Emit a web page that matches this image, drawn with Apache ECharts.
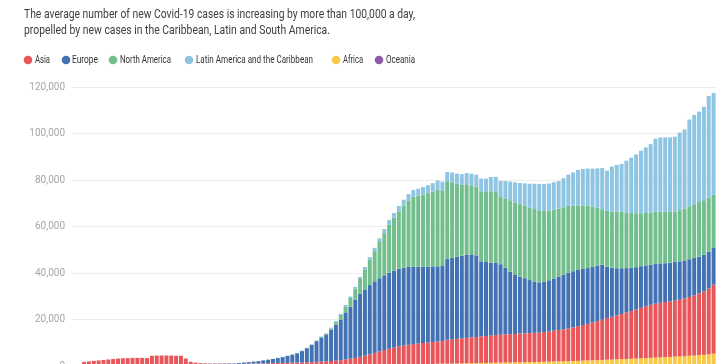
<!DOCTYPE html>
<html><head><meta charset="utf-8">
<script src="https://cdn.jsdelivr.net/npm/echarts@6/dist/echarts.min.js"></script>
<style>html,body{margin:0;padding:0;background:#fff}#c{width:728px;height:364px}</style>
</head><body><div id="c"></div>
<script>
// Daily new cases, 7-day average, by region
const asia = [
 200,600,1800,2000,2200,2400,2600,2800,3000,3200,
 3300,3400,3500,3500,3500,3400,4400,4500,4500,4500,
 4500,4400,4400,3200,1800,1400,1200,1100,1000,1000,
 1000,1000,1000,900,900,900,1000,1000,1100,1100,
 1200,1200,1300,1300,1300,1400,1400,1400,1500,1500,
 1600,1700,1800,1900,2000,2200,2400,2700,3000,3400,
 3900,4400,5000,5600,6200,6800,7300,7800,8200,8500,
 8800,9000,9200,9400,9500,9600,9700,10300,10500,10600,
 10800,10900,11100,11200,11400,11600,11700,11900,12000,12100,
 12200,12200,12400,12400,12500,12600,12600,12800,13000,13300,
 13500,13700,14100,14400,14900,15300,15700,16200,16800,17300,
 17900,18400,18900,19400,20000,20500,21100,21700,22300,22800,
 23200,23500,23700,23900,24100,24400,24900,25300,25900,26500,
 27300,28300,29700];
const europe = [
 0,0,0,0,0,0,0,0,0,0,
 0,0,0,0,0,0,0,0,0,0,
 0,0,0,0,20,30,40,60,80,100,
 120,140,170,200,400,600,700,900,1000,1300,
 1500,1800,2100,2500,3000,3400,4000,4900,6000,7400,
 8900,10400,11500,13400,15400,17400,20000,22400,25000,27100,
 28500,29800,30800,31500,32200,32700,33100,33400,33500,33500,
 33300,33000,32800,32600,32500,32300,32300,34700,35000,35300,
 35500,35700,35700,35100,32300,31800,31400,31000,30300,28700,
 26800,25400,24400,23700,22800,22000,21600,21700,22000,22400,
 23000,23500,23900,24200,24200,24100,24000,23900,23900,23700,
 22100,21100,20300,19700,19100,18600,18200,17900,17600,17300,
 17100,16900,16700,16600,16600,16500,16300,16200,16100,15900,
 15800,15900,16000];
const northAmerica = [
 0,0,0,0,0,0,0,0,0,0,
 0,0,0,0,0,0,0,0,0,0,
 0,0,0,0,0,0,0,0,5,5,
 10,10,15,15,20,20,25,25,30,30,
 35,40,45,55,65,70,80,100,120,150,
 180,220,350,600,1200,2000,2900,3700,4800,6400,
 8600,10800,13000,15600,18100,20600,22700,24700,26700,28600,
 30000,30600,31100,31600,32200,33000,32300,33500,32500,31400,
 30500,30400,29700,29500,30100,30100,30700,30500,28900,29800,
 30800,31200,31200,31100,31100,31200,31000,30400,30000,29700,
 29200,29000,28700,28200,27800,27400,26800,25900,24800,23800,
 24000,24200,24300,24200,23900,23600,23200,22800,22500,22400,
 22400,22300,22100,21800,21700,22000,22400,22800,23100,23400,
 23400,23200,22600];
const latinAmerica = [
 0,0,0,0,0,0,0,0,0,0,
 0,0,0,0,0,0,0,0,0,0,
 0,0,0,0,0,0,0,0,0,0,
 0,0,0,0,0,5,5,10,10,15,
 20,25,30,35,40,50,60,80,100,120,
 150,180,250,300,350,450,550,650,750,900,
 1000,1200,1400,1600,1800,2000,2100,2300,2500,2700,
 2900,3000,3200,3400,3600,3900,4000,4000,4200,4400,
 4600,4800,5000,5200,5500,5800,6100,6500,6900,7400,
 8000,8600,9100,9700,10300,10900,11300,11600,11600,11700,
 11800,12500,13500,14300,15200,15600,16000,16400,17000,17700,
 17300,19300,20100,20700,22300,23800,25300,26900,28200,29400,
 31500,31900,32000,32100,32200,33400,33900,37300,38400,38900,
 40200,43700,43800];
const africa = [
 0,0,0,0,0,0,0,0,0,0,
 0,0,0,0,0,0,0,0,0,0,
 0,0,0,0,0,0,0,0,0,0,
 0,0,0,0,0,0,0,0,0,5,
 5,10,10,15,20,50,60,70,80,90,
 100,110,120,130,140,150,170,190,210,230,
 250,270,290,310,330,350,380,410,440,470,
 500,560,620,700,780,900,950,950,1000,1050,
 1100,1150,1200,1250,1300,1300,1350,1400,1450,1500,
 1500,1550,1600,1650,1650,1700,1750,1800,1850,1900,
 2000,2050,2100,2150,2200,2300,2400,2450,2500,2600,
 2700,2750,2850,2950,3000,3100,3200,3300,3400,3500,
 3600,3700,3800,3900,4000,4100,4200,4400,4500,4700,
 4800,5000,5300];
const oceania = [
 0,0,0,0,0,0,0,0,0,0,
 0,0,0,0,0,0,0,0,0,0,
 0,0,0,0,0,0,0,0,0,0,
 0,0,0,0,0,2,3,5,5,8,
 10,10,15,15,20,25,30,40,50,60,
 70,90,110,130,160,190,220,250,280,300,
 320,330,330,320,300,280,250,220,190,160,
 130,100,80,70,60,50,45,40,35,30,
 30,25,25,25,20,20,20,20,20,20,
 15,15,15,15,15,15,15,15,15,15,
 15,15,10,10,10,10,10,10,10,10,
 10,10,10,10,10,10,10,10,10,10,
 10,10,10,10,10,10,10,10,10,10,
 10,10,10];
const categories = asia.map((_, i) => 'Day ' + (i + 1));
const yTicks = [0, 20000, 40000, 60000, 80000, 100000, 120000];
const subtitleLines = [
 'The average number of new Covid-19 cases is increasing by more than 100,000 a day,',
 'propelled by new cases in the Caribbean, Latin and South America.'
];
const legendNames = ['Asia', 'Europe', 'North America', 'Latin America and the Caribbean', 'Africa', 'Oceania'];
const colors = {
 'Asia': '#e8565a', 'Europe': '#4271b4', 'North America': '#72bf8d',
 'Latin America and the Caribbean': '#8dc5e2', 'Africa': '#f8c946', 'Oceania': '#8b5ba6'
};
const seriesData = {
 'Oceania': oceania, 'Africa': africa, 'Asia': asia, 'Europe': europe,
 'North America': northAmerica, 'Latin America and the Caribbean': latinAmerica
};
const stackOrder = ['Oceania', 'Africa', 'Asia', 'Europe', 'North America', 'Latin America and the Caribbean'];

// layout
const subtitleLayout = [{x: 24, y: 15, w: 391}, {x: 24, y: 31, w: 306}];
const legendLayout = [
 {cx: 28, tx: 35, w: 15}, {cx: 66, tx: 72, w: 26}, {cx: 113, tx: 120, w: 51},
 {cx: 189, tx: 196, w: 117}, {cx: 336, tx: 343, w: 20}, {cx: 379, tx: 386, w: 29}
];
const FONT = 'Roboto, "Noto Sans", sans-serif';
const mctx = document.createElement('canvas').getContext('2d');
function fit(text, font, target) { mctx.font = font; return target / mctx.measureText(text).width; }

const graphic = [];
subtitleLines.forEach((t, i) => {
 const f = '13px ' + FONT;
 const L = subtitleLayout[i];
 graphic.push({type: 'text', x: L.x, y: L.y, scaleX: fit(t, f, L.w), silent: true,
   style: {text: t, font: f, fill: '#3e3e3e', verticalAlign: 'middle', textAlign: 'left'}});
});
legendNames.forEach((n, i) => {
 const L = legendLayout[i];
 const f = '11px ' + FONT;
 graphic.push({type: 'circle', shape: {cx: L.cx, cy: 60, r: 4.3}, silent: true, style: {fill: colors[n]}});
 graphic.push({type: 'text', x: L.tx, y: 60, scaleX: fit(n, f, L.w), silent: true,
   style: {text: n, font: f, fill: '#333', verticalAlign: 'middle', textAlign: 'left'}});
});

const chart = echarts.init(document.getElementById('c'), null, {renderer: 'canvas'});
chart.setOption({
 animation: false,
 backgroundColor: '#fff',
 graphic: graphic,
 grid: {left: 72, top: 87, width: 644, height: 279, containLabel: false, outerBoundsMode: 'none'},
 xAxis: {type: 'category', data: categories, show: false},
 yAxis: {
   type: 'value', min: yTicks[0], max: yTicks[yTicks.length - 1], interval: yTicks[1] - yTicks[0],
   axisLine: {show: false}, axisTick: {show: false},
   splitLine: {lineStyle: {color: '#ededed', width: 1}},
   axisLabel: {color: '#a6a6a6', fontSize: 10, fontFamily: FONT, margin: 7,
     formatter: v => v.toLocaleString('en-US')}
 },
 series: stackOrder.map(n => ({
   name: n, type: 'bar', stack: 'total', data: seriesData[n],
   barCategoryGap: '18%', itemStyle: {color: colors[n]}, emphasis: {disabled: true}
 }))
});
</script></body></html>
